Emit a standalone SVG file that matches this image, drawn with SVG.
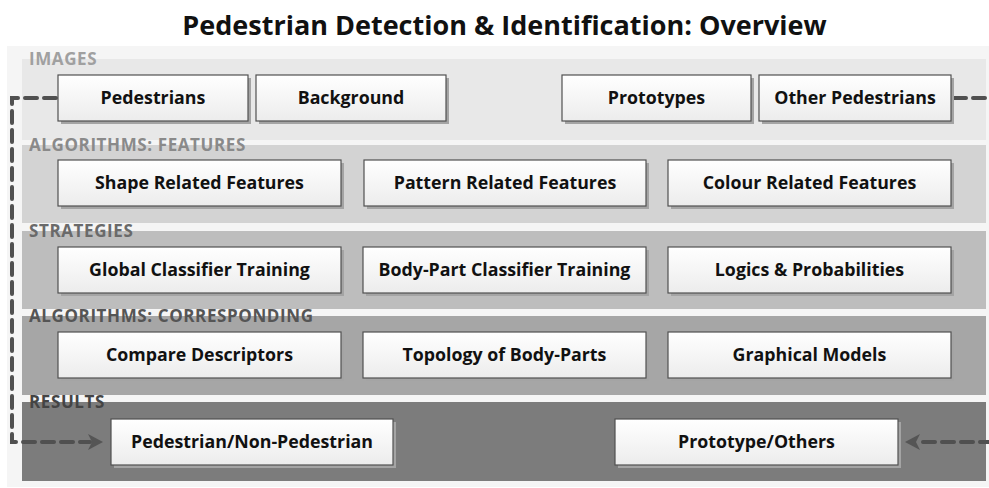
<svg xmlns="http://www.w3.org/2000/svg" width="989" height="488" viewBox="0 0 989 488">
<defs>
<linearGradient id="boxg" x1="0" y1="0" x2="0" y2="1"><stop offset="0" stop-color="#ffffff"/><stop offset="1" stop-color="#ececec"/></linearGradient>
</defs>
<style>
.band-label{font-family:"Open Sans","Liberation Sans",Arial,sans-serif;font-weight:bold;font-size:17px;letter-spacing:0.6px}
.box{fill:url(#boxg);stroke:#505050;stroke-width:1.2}
.shadow{fill:#a4a4a4}
.txt{font-family:"Open Sans","Liberation Sans",Arial,sans-serif;font-weight:bold;font-size:17.8px;fill:#111;text-anchor:middle}
.dash{fill:none;stroke:#505050;stroke-width:4;stroke-dasharray:12 7;stroke-linecap:round}
</style>
<rect width="989" height="488" fill="#ffffff"/>
<rect x="7" y="46" width="982" height="441" fill="#f5f5f5"/>
<text x="504.5" y="35" text-anchor="middle" font-family="Open Sans,Liberation Sans,Arial,sans-serif" font-weight="bold" font-size="27" fill="#111">Pedestrian Detection &amp; Identification: Overview</text>

<g id="band-images"><rect x="22" y="59" width="964" height="81" fill="#e8e8e8"/><text class="band-label" x="29" y="65" fill="#a0a0a0">IMAGES</text></g>
<g id="band-features"><rect x="22" y="145" width="964" height="78" fill="#d3d3d3"/><text class="band-label" x="29" y="151" fill="#8a8a8a">ALGORITHMS: FEATURES</text></g>
<g id="band-strategies"><rect x="22" y="231" width="964" height="78" fill="#bdbdbd"/><text class="band-label" x="29" y="237" fill="#6a6a6a">STRATEGIES</text></g>
<g id="band-corresponding"><rect x="22" y="316" width="964" height="79" fill="#a6a6a6"/><text class="band-label" x="29" y="322" fill="#555">ALGORITHMS: CORRESPONDING</text></g>
<g id="band-results"><rect x="22" y="402" width="964" height="79" fill="#7c7c7c"/><text class="band-label" x="29" y="408" fill="#444">RESULTS</text></g>

<g id="connectors">
<path class="dash" d="M56,98 H12 V442 H90"/>
<path d="M88,434 L103,442 L88,450 L92,442 Z" fill="#555"/>
<path class="dash" d="M954,98 H992"/>
<path class="dash" d="M992,442 H917"/>
<path d="M920,434 L905,442 L920,450 L916,442 Z" fill="#555"/>
</g>

<g id="n-pedestrians"><rect class="shadow" x="61" y="78" width="190" height="46"/><rect class="box" x="58" y="75" width="190" height="46"/><text class="txt" x="153" y="104">Pedestrians</text></g>
<g id="n-background"><rect class="shadow" x="259" y="78" width="190" height="46"/><rect class="box" x="256" y="75" width="190" height="46"/><text class="txt" x="351" y="104">Background</text></g>
<g id="n-prototypes"><rect class="shadow" x="565" y="78" width="189" height="46"/><rect class="box" x="562" y="75" width="189" height="46"/><text class="txt" x="656.5" y="104">Prototypes</text></g>
<g id="n-other"><rect class="shadow" x="762" y="78" width="192" height="46"/><rect class="box" x="759" y="75" width="192" height="46"/><text class="txt" x="855" y="104">Other Pedestrians</text></g>

<g id="n-shape"><rect class="shadow" x="61" y="163" width="283" height="46"/><rect class="box" x="58" y="160" width="283" height="46"/><text class="txt" x="199.5" y="189">Shape Related Features</text></g>
<g id="n-pattern"><rect class="shadow" x="367" y="163" width="282" height="46"/><rect class="box" x="364" y="160" width="282" height="46"/><text class="txt" x="505" y="189">Pattern Related Features</text></g>
<g id="n-colour"><rect class="shadow" x="671" y="163" width="283" height="46"/><rect class="box" x="668" y="160" width="283" height="46"/><text class="txt" x="809.5" y="189">Colour Related Features</text></g>

<g id="n-global"><rect class="shadow" x="61" y="250" width="283" height="46"/><rect class="box" x="58" y="247" width="283" height="46"/><text class="txt" x="199.5" y="276">Global Classifier Training</text></g>
<g id="n-bodypart"><rect class="shadow" x="366" y="250" width="283" height="46"/><rect class="box" x="363" y="247" width="283" height="46"/><text class="txt" x="504.5" y="276">Body-Part Classifier Training</text></g>
<g id="n-logics"><rect class="shadow" x="671" y="250" width="283" height="46"/><rect class="box" x="668" y="247" width="283" height="46"/><text class="txt" x="809.5" y="276">Logics &amp; Probabilities</text></g>

<g id="n-compare"><rect class="shadow" x="61" y="335" width="283" height="46"/><rect class="box" x="58" y="332" width="283" height="46"/><text class="txt" x="199.5" y="361">Compare Descriptors</text></g>
<g id="n-topology"><rect class="shadow" x="366" y="335" width="283" height="46"/><rect class="box" x="363" y="332" width="283" height="46"/><text class="txt" x="504.5" y="361">Topology of Body-Parts</text></g>
<g id="n-graphical"><rect class="shadow" x="671" y="335" width="283" height="46"/><rect class="box" x="668" y="332" width="283" height="46"/><text class="txt" x="809.5" y="361">Graphical Models</text></g>

<g id="n-pednonped"><rect class="shadow" x="114" y="422" width="282" height="46"/><rect class="box" x="111" y="419" width="282" height="46"/><text class="txt" x="252" y="448">Pedestrian/Non-Pedestrian</text></g>
<g id="n-protoothers"><rect class="shadow" x="618" y="422" width="283" height="46"/><rect class="box" x="615" y="419" width="283" height="46"/><text class="txt" x="756.5" y="448">Prototype/Others</text></g>
</svg>
